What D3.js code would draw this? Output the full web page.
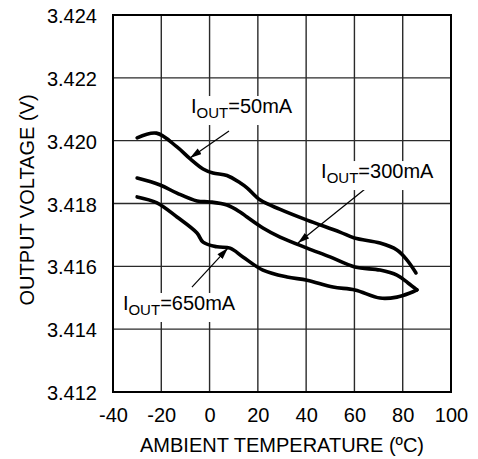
<!DOCTYPE html>
<html>
<head>
<meta charset="utf-8">
<script src="https://cdn.jsdelivr.net/npm/d3@7/dist/d3.min.js"></script>
<style>
  html, body { margin: 0; padding: 0; background: #fff; }
  svg { display: block; font-family: "Liberation Sans", Arial, sans-serif; }
</style>
</head>
<body>
<svg id="chart" width="478" height="459"></svg>
<script>
// ---- data ----
const xTicks = [-40, -20, 0, 20, 40, 60, 80, 100];
const yTicks = [3.412, 3.414, 3.416, 3.418, 3.420, 3.422, 3.424];

const temp50 = [-30, -22, -13.5, -8, -2.7, 1.4, 7.2, 12.6, 15.5, 21, 29, 40.4, 54, 60, 70.6, 77.6, 81.8, 85.5];
const volt50 = [3.42009, 3.42024, 3.41980, 3.41942, 3.41910, 3.41897, 3.41889, 3.41866, 3.41850, 3.41811, 3.41782, 3.41747, 3.41709, 3.41690, 3.41674, 3.41652, 3.41620, 3.41579];

const temp300 = [-30, -20.5, -13.5, -5.2, 0.2, 7.2, 12.6, 15.5, 22.1, 29.2, 40.4, 49.9, 60.2, 70.6, 77.6, 82.2, 85.9];
const volt300 = [3.41881, 3.41859, 3.41833, 3.41808, 3.41805, 3.41795, 3.41773, 3.41757, 3.41722, 3.41693, 3.41658, 3.41630, 3.41598, 3.41588, 3.41572, 3.41547, 3.41525];

const temp650 = [-30, -21.8, -13.5, -5.2, -2.7, 3.1, 8.5, 13.8, 22.1, 32.1, 40.4, 51.1, 60.2, 70.6, 77.6, 83, 85.9];
const volt650 = [3.41821, 3.41802, 3.41757, 3.41706, 3.41677, 3.41662, 3.41658, 3.41630, 3.41588, 3.41566, 3.41556, 3.41534, 3.41525, 3.41499, 3.41502, 3.41515, 3.41525];

const labelNames = ["50mA", "300mA", "650mA"];
// label anchor [T, V] and arrow [fromT, fromV, toT, toV]
const labelPos = [[-7.7, 3.42088], [46.2, 3.41881], [-35.9, 3.41461]];
const arrowPos = [[8.05, 3.42031, -8.1, 3.41945], [64.4, 3.41846, 36.6, 3.41674], [-7.3, 3.41534, 7.6, 3.41658]];

// ---- layout ----
const svg = d3.select("#chart");
const L = 113, R = 451, T = 15, B = 392;
const x = d3.scaleLinear().domain([-40, 100]).range([L, R]);
const y = d3.scaleLinear().domain([3.412, 3.424]).range([B, T]);

// grid
const g = svg.append("g");
g.selectAll("line.vx").data(xTicks).join("line")
  .attr("x1", d => x(d)).attr("x2", d => x(d))
  .attr("y1", T).attr("y2", B)
  .attr("stroke", "#2a2a2a").attr("stroke-width", 1.4);
g.selectAll("line.hy").data(yTicks).join("line")
  .attr("y1", d => y(d)).attr("y2", d => y(d))
  .attr("x1", L).attr("x2", R)
  .attr("stroke", "#2a2a2a").attr("stroke-width", 1.4);
svg.append("rect").attr("x", L).attr("y", T).attr("width", R - L).attr("height", B - T)
  .attr("fill", "none").attr("stroke", "#000").attr("stroke-width", 2);

// axes labels
svg.append("g").attr("transform", `translate(0,${B})`)
  .call(d3.axisBottom(x).tickValues(xTicks).tickSize(0).tickPadding(0).tickFormat(d => String(d)))
  .call(s => s.select(".domain").remove())
  .call(s => s.selectAll("text").attr("font-size", 20).attr("font-family", "Liberation Sans, Arial, sans-serif")
      .attr("fill", "#000").attr("dy", null).attr("y", 30));
svg.append("g").attr("transform", `translate(${L},0)`)
  .call(d3.axisLeft(y).tickValues(yTicks).tickSize(0).tickPadding(16).tickFormat(d3.format(".3f")))
  .call(s => s.select(".domain").remove())
  .call(s => s.selectAll("text").attr("font-size", 20).attr("font-family", "Liberation Sans, Arial, sans-serif")
      .attr("fill", "#000").attr("dy", "0.38em"));

svg.append("text").attr("x", (L + R) / 2).attr("y", 452).attr("text-anchor", "middle")
  .attr("font-size", 20).text("AMBIENT TEMPERATURE (ºC)");
svg.append("text").attr("transform", `translate(34,200) rotate(-90)`)
  .attr("text-anchor", "middle").attr("font-size", 20).text("OUTPUT VOLTAGE (V)");

// curves
const line = d3.line().x(d => x(d[0])).y(d => y(d[1])).curve(d3.curveCatmullRom.alpha(0.5));
const series = [
  d3.zip(temp50, volt50),
  d3.zip(temp300, volt300),
  d3.zip(temp650, volt650)
];
svg.selectAll("path.curve").data(series).join("path")
  .attr("d", line).attr("fill", "none").attr("stroke", "#000")
  .attr("stroke-width", 3.6).attr("stroke-linecap", "round").attr("stroke-linejoin", "round");

// arrows
svg.append("defs").append("marker").attr("id", "ah")
  .attr("viewBox", "0 0 10 6").attr("refX", 10).attr("refY", 3)
  .attr("markerWidth", 12).attr("markerHeight", 7).attr("markerUnits", "userSpaceOnUse")
  .attr("orient", "auto")
  .append("path").attr("d", "M0,0 L10,3 L0,6 Z").attr("fill", "#000");
svg.selectAll("line.arrow").data(arrowPos).join("line")
  .attr("x1", d => x(d[0])).attr("y1", d => y(d[1]))
  .attr("x2", d => x(d[2])).attr("y2", d => y(d[3]))
  .attr("stroke", "#000").attr("stroke-width", 1.2).attr("marker-end", "url(#ah)");

// labels with white boxes
labelNames.forEach((name, i) => {
  const lg = svg.append("g");
  const rect = lg.append("rect").attr("fill", "#fff");
  const t = lg.append("text").attr("x", x(labelPos[i][0])).attr("y", y(labelPos[i][1]))
    .attr("font-size", 20);
  t.append("tspan").text("I");
  t.append("tspan").attr("font-size", 15).attr("dy", 5).text("OUT");
  t.append("tspan").attr("dy", -5).text("=" + name);
  const bb = t.node().getBBox();
  rect.attr("x", bb.x - 3).attr("y", bb.y + 1).attr("width", bb.width + 6).attr("height", bb.height + 3);
});
</script>
</body>
</html>
